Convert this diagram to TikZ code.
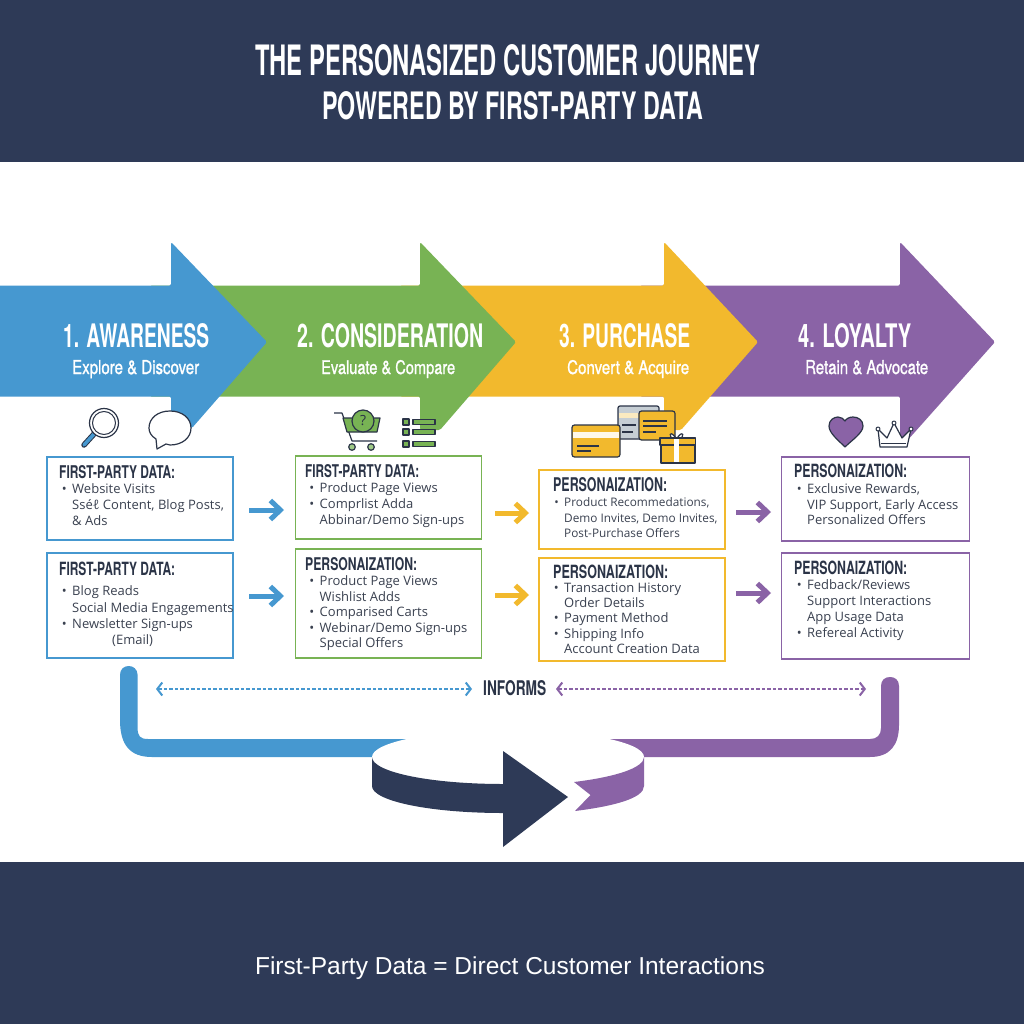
\documentclass[tikz,border=0pt]{standalone}
\usepackage{fontspec}
\usepackage{graphicx}
\usetikzlibrary{arrows.meta}
\setmainfont{Open Sans}
\newfontfamily\hf{TeX Gyre Heros}
\newfontfamily\hfs[FakeBold=1.2]{TeX Gyre Heros}
\newfontfamily\ff{Liberation Sans}
\definecolor{navy}{HTML}{2E3A57}
\definecolor{cblue}{HTML}{4698D0}
\definecolor{cgreen}{HTML}{78B354}
\definecolor{cyell}{HTML}{F2B92D}
\definecolor{cpurp}{HTML}{8A63A6}
\definecolor{ink}{HTML}{2B3447}
\definecolor{body}{HTML}{3A4150}
\newcommand{\fit}[3]{\resizebox{#1pt}{#2pt}{\hf\bfseries #3}}
\newcommand{\fitr}[3]{\resizebox{#1pt}{#2pt}{\hfs #3}}
\newcommand{\bl}{\llap{•\hspace{5.5pt}}}
\tikzset{
  lbl/.style={anchor=base west,inner sep=0pt,text=white},
  hd/.style={anchor=base west,inner sep=0pt,text=ink},
  bodytxt/.style={anchor=north west,inner sep=0pt,align=left,text=body,font=\fontsize{13}{#1}\selectfont},
  bodytight/.style={anchor=north west,inner sep=0pt,align=left,text=body,font=\fontsize{11.8}{#1}\selectfont},
  bx/.style={draw=#1,line width=1.3pt,fill=white,inner sep=0pt},
  flow/.style={draw=#1,line width=5pt,-{Straight Barb[length=10pt,width=19pt,line width=5pt]}},
  inf/.style={draw=#1,line width=1.8pt,dash pattern=on 3.5pt off 2pt,{Straight Barb[length=5pt,width=13pt,line width=2pt]}-{Straight Barb[length=5pt,width=13pt,line width=2pt]}},
  icon/.style={draw=ink,line width=1.2pt,line join=round},
}
\begin{document}
\begin{tikzpicture}[x=1pt,y=-1pt]
\useasboundingbox (0,0) rectangle (1024,1024);
\fill[white] (0,0) rectangle (1024,1024);
\fill[navy] (0,0) rectangle (1024,162);
\fill[navy] (0,862) rectangle (1024,1024);
\node[lbl,anchor=base west] (title1) at (255,76) {\fit{505}{31}{THE PERSONASIZED CUSTOMER JOURNEY}};
\node[lbl,anchor=base west] (title2) at (322,120) {\fit{381}{28}{POWERED BY FIRST-PARTY DATA}};
\node[anchor=center,inner sep=0pt,text=white,font=\ff\fontsize{24.5}{26}\selectfont] (foot) at (510,968) {First-Party Data = Direct Customer Interactions};

% big arrows
\fill[cpurp,rounded corners=1.5pt] (640,285.5) -- (900,285.5) -- (900,242) -- (995,342) -- (906,442) -- (900,442) -- (900,396.5) -- (640,396.5) -- cycle;
\fill[cyell,rounded corners=1.5pt] (400,285.5) -- (664,285.5) -- (664,242) -- (758,342) -- (681,430) -- (664,430) -- (664,396.5) -- (400,396.5) -- cycle;
\fill[cgreen,rounded corners=1.5pt] (150,285.5) -- (420,285.5) -- (420,242) -- (516,342) -- (440,430) -- (420,430) -- (420,396.5) -- (150,396.5) -- cycle;
\fill[cblue,rounded corners=1.5pt] (-5,285.5) -- (171,285.5) -- (171,242) -- (267,342) -- (192,428) -- (171,428) -- (171,396.5) -- (-5,396.5) -- cycle;

\node[lbl] (s1) at (63,347) {\fit{146}{24}{1. AWARENESS}};
\node[lbl] (s1b) at (72,374) {\fitr{127}{14}{Explore \& Discover}};
\node[lbl] (s2) at (297,347) {\fit{186}{24}{2. CONSIDERATION}};
\node[lbl] (s2b) at (321,374) {\fitr{134}{14}{Evaluate \& Compare}};
\node[lbl] (s3) at (559,347) {\fit{131}{24}{3. PURCHASE}};
\node[lbl] (s3b) at (567,374) {\fitr{122}{14}{Convert \& Acquire}};
\node[lbl] (s4) at (798,347) {\fit{113}{24}{4. LOYALTY}};
\node[lbl] (s4b) at (805,374) {\fitr{123}{14}{Retain \& Advocate}};

% icons: magnifier
\draw[line width=5.5pt,ink,line cap=round] (94,434) -- (84,445);
\draw[line width=3.5pt,cblue,line cap=round] (94,434) -- (84,445);
\draw[icon,fill=white] (104,423) circle (14.5);
\draw[icon,line width=1pt] (104,423) circle (11.5);
% bubble
\draw[icon,fill=white] (157,449) -- (156,439) .. controls (151,436) and (149,432) .. (149,428) .. controls (149,418) and (158,411) .. (170,411) .. controls (182,411) and (191,418) .. (191,428) .. controls (191,438) and (182,445) .. (170,445) -- (166,444) -- cycle;
% cart
\draw[icon] (334,413) -- (342,413) -- (352,441) -- (377,441);
\draw[icon,fill=cgreen] (343,418) -- (380,418) -- (377,432) -- (347,432) -- cycle;
\draw[icon,fill=cgreen] (363,421) circle (11);
\node[inner sep=0pt,text=ink,font=\fontsize{14}{14}\selectfont] (qm) at (363,421) {?};
\draw[icon,fill=cgreen!70] (352,447) circle (3.3);
\draw[icon,fill=cgreen!70] (371,447) circle (3.3);
% list
\foreach \yy in {422,432,444}{
  \draw[icon,fill=cgreen] (403,\yy-3) rectangle (409,\yy+3);
  \draw[icon,fill=cgreen] (413,\yy-2.6) rectangle (435,\yy+2.6);
}
% cards
\draw[icon,fill=cblue!25!gray!40!white,rounded corners=2pt] (618,406) rectangle (659,439);
\fill[cyell!30!white] (619,413) rectangle (658,418);
\draw[icon] (622,425) -- (636,425) (622,432) -- (633,432);
\draw[icon,fill=cyell,rounded corners=2.5pt] (639,411) rectangle (675,440);
\draw[icon] (643,421) -- (667,421) (643,426) -- (667,426) (643,432) -- (656,432);
\draw[icon,fill=cyell,rounded corners=2.5pt] (572,425) rectangle (620,457);
\draw[draw=none,fill=white!90!cyell] (573,432) rectangle (619,438);
\draw[icon] (577,446) -- (599,446) (577,451) -- (591,451);
% gift
\draw[icon,fill=white] (676,438) .. controls (668,428) and (670,438) .. (672,438);
\draw[icon,fill=white] (677,438) .. controls (685,428) and (683,438) .. (681,438);
\draw[icon,fill=cyell] (661,445) rectangle (695,463);
\draw[icon,fill=cyell] (660,438) rectangle (695.5,445);
\fill[white] (674,438.6) rectangle (679,462.4);
% heart
\draw[icon,fill=cpurp] (845,447) .. controls (838,440) and (829,433) .. (829,426) .. controls (829,420) and (834,417) .. (838,417) .. controls (841,417) and (844,419) .. (845,421) .. controls (846,419) and (849,417) .. (853,417) .. controls (858,417) and (863,420) .. (863,426) .. controls (863,433) and (852,440) .. (845,447) -- cycle;
% crown
\draw[icon,fill=white] (880,447) -- (878,429) -- (887,438) -- (894,423) -- (902,438) -- (911,429) -- (907,447) -- cycle;
\draw[icon,line width=1pt] (881,443) -- (906,443);
\draw[icon,fill=white,line width=1pt] (878,429) circle (2) (894,423) circle (2) (911,429) circle (2);

% boxes
\node[bx=cblue,minimum width=186pt,minimum height=83pt] (b1) at (140,498.5) {};
\node[bx=cblue,minimum width=186pt,minimum height=105pt] (b2) at (140,605.5) {};
\node[bx=cgreen,minimum width=186pt,minimum height=83pt] (g1) at (388.5,497.5) {};
\node[bx=cgreen,minimum width=186pt,minimum height=109pt] (g2) at (388.5,603.5) {};
\node[bx=cyell,minimum width=186pt,minimum height=79pt] (y1) at (632,509.5) {};
\node[bx=cyell,minimum width=186pt,minimum height=103pt] (y2) at (632,609.5) {};
\node[bx=cpurp,minimum width=188pt,minimum height=84pt] (p1) at (875.5,499) {};
\node[bx=cpurp,minimum width=188pt,minimum height=106pt] (p2) at (875.5,606) {};

\node[hd] (h1) at (59,478) {\fit{116}{13}{FIRST-PARTY DATA:}};
\node[hd] (h2) at (59,575) {\fit{116}{13.5}{FIRST-PARTY DATA:}};
\node[hd] (h3) at (305,477) {\fit{114}{13}{FIRST-PARTY DATA:}};
\node[hd] (h4) at (305,570) {\fit{112}{13}{PERSONAIZATION:}};
\node[hd] (h5) at (553,491) {\fit{114}{14}{PERSONAIZATION:}};
\node[hd] (h6) at (553,578) {\fit{115}{13.5}{PERSONAIZATION:}};
\node[hd] (h7) at (794,477) {\fit{113}{13.5}{PERSONAIZATION:}};
\node[hd] (h8) at (794,574) {\fit{113}{13.5}{PERSONAIZATION:}};

\node[bodytxt=15.7] (t1) at (72,483.8) {\bl Website Visits\\Sséℓ\ Content, Blog Posts,\\\&{} Ads};
\node[bodytxt=16.2] (t2) at (72,585.8) {\bl Blog Reads\\Social Media Engagements\\\bl Newsletter Sign-ups\\\hspace*{40pt}(Email)};
\node[bodytxt=15.7] (t3) at (319.5,482.8) {\bl Product Page Views\\\bl Comprlist Adda\\Abbinar/Demo Sign-ups};
\node[bodytxt=15.5] (t4) at (319.5,575.8) {\bl Product Page Views\\Wishlist Adds\\\bl Comparised Carts\\\bl Webinar/Demo Sign-ups\\Special Offers};
\node[bodytight=15.5] (t5) at (564,497.8) {\bl Product Recommedations,\\Demo Invites, Demo Invites,\\Post-Purchase Offers};
\node[bodytxt=15.2] (t6) at (564,582.8) {\bl Transaction History\\Order Details\\\bl Payment Method\\\bl Shipping Info\\Account Creation Data};
\node[bodytxt=15.2] (t7) at (807,483.8) {\bl Exclusive Rewards,\\VIP Support, Early Access\\Personalized Offers};
\node[bodytxt=16] (t8) at (807,579.8) {\bl Fedback/Reviews\\Support Interactions\\App Usage Data\\\bl Refereal Activity};

% flow arrows
\coordinate (a1s) at (249,510); \coordinate (a1e) at (284,510);
\coordinate (a2s) at (249,596); \coordinate (a2e) at (284,596);
\coordinate (a3s) at (495,513); \coordinate (a3e) at (529,513);
\coordinate (a4s) at (495,595); \coordinate (a4e) at (529,595);
\coordinate (a5s) at (736,512); \coordinate (a5e) at (771,512);
\coordinate (a6s) at (736,593); \coordinate (a6e) at (771,593);
\draw[flow=cblue] (a1s) -- (a1e);
\draw[flow=cblue] (a2s) -- (a2e);
\draw[flow=cyell] (a3s) -- (a3e);
\draw[flow=cyell] (a4s) -- (a4e);
\draw[flow=cpurp] (a5s) -- (a5e);
\draw[flow=cpurp] (a6s) -- (a6e);

% informs
\node[hd] (informs) at (483,695) {\fit{63}{15}{INFORMS}};
\coordinate (d1s) at (156,689); \coordinate (d1e) at (472,689);
\coordinate (d2s) at (556,689); \coordinate (d2e) at (866,689);
\draw[inf=cblue] (d1s) -- (d1e);
\draw[inf=cpurp] (d2s) -- (d2e);

% loop
\fill[cblue] (120,675) .. controls (120,669) and (124,666) .. (128.8,666) .. controls (133,666) and (137.6,669) .. (137.6,675) -- (137.6,728) .. controls (137.6,736) and (140,739) .. (148,739) -- (420,739) -- (420,757) -- (152,757) .. controls (130,757) and (120,745) .. (120,720) -- cycle;
\fill[cpurp] (881,686) .. controls (881,680) and (885,677) .. (890,677) .. controls (895,677) and (899,680) .. (899,686) -- (899,725) .. controls (899,745) and (890,757) .. (870,757) -- (600,757) -- (600,739) -- (870,739) .. controls (877,739) and (881,735) .. (881,728) -- cycle;
\fill[white] (508,757) ellipse [x radius=136,y radius=27];
\fill[navy] (372,757) .. controls (372,772) and (430,784) .. (503,784) -- (503,751) -- (568,797) -- (503,847) -- (503,813) .. controls (430,813) and (372,801) .. (372,786) -- cycle;
\fill[cpurp] (644,757) .. controls (644,768) and (615,777) .. (574,782) -- (590.5,795) -- (575,811) .. controls (615,806) and (644,798) .. (644,786) -- cycle;
\end{tikzpicture}
\end{document}
